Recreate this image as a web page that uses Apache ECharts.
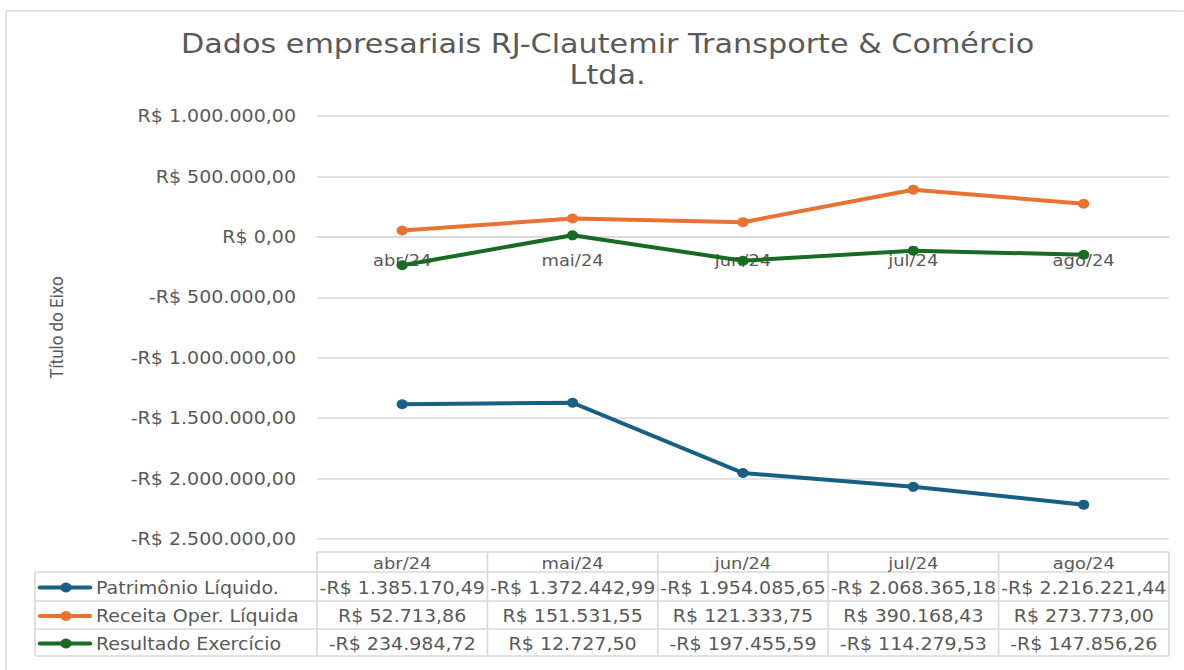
<!DOCTYPE html>
<html>
<head>
<meta charset="utf-8">
<script src="https://cdn.jsdelivr.net/npm/echarts@6/dist/echarts.min.js"></script>
<style>
  html, body { margin: 0; padding: 0; background: #fff; overflow: hidden; }
  #wrap { width: 1184px; height: 670px; overflow: hidden; }
  /* a imagem original está levemente esticada na horizontal */
  #chart { height: 670px; transform-origin: 0 0; }
</style>
</head>
<body>
<div id="wrap"><div id="chart"></div></div>
<script>
// dados
const meses = ['abr/24', 'mai/24', 'jun/24', 'jul/24', 'ago/24'];
const patrimonio = [-1385170.49, -1372442.99, -1954085.65, -2068365.18, -2216221.44];
const receita = [52713.86, 151531.55, 121333.75, 390168.43, 273773.00];
const resultado = [-234984.72, 12727.50, -197455.59, -114279.53, -147856.26];
const nomesSeries = ['Patrimônio Líquido.', 'Receita Oper. Líquida', 'Resultado Exercício'];
const coresSeries = ['#185f84', '#e97132', '#196b24'];
const yMin = -2500000, yMax = 1000000, yStep = 500000;

// layout (coordenadas finais, em px da imagem)
const S = 1.12; // fator de esticamento horizontal
const W = 1184, H = 670;
const GRID_L = 317, GRID_R = 1169, GRID_T = 116, GRID_B = 539;
const TAB_TOP = 552, HEAD_H = 20, ROW_H = [29, 28, 27], TAB_LEFT = 35;
const GRAY = '#d9d9d9', TXT = '#595959';
const FONT = '"DejaVu Sans", sans-serif';
const px = x => x / S; // converte x final -> x interno

const dom = document.getElementById('chart');
dom.style.width = px(W) + 'px';
dom.style.transform = 'scaleX(' + S + ')';

// formata R$ no padrão brasileiro
function brl(v) {
  const neg = v < 0;
  const parts = Math.abs(v).toFixed(2).split('.');
  const inteiro = parts[0].replace(/\B(?=(\d{3})+(?!\d))/g, '.');
  return (neg ? '-' : '') + 'R$ ' + inteiro + ',' + parts[1];
}

const myChart = echarts.init(dom, null, { renderer: 'svg' });

// tabela de dados (abaixo do gráfico)
function buildTable() {
  const els = [];
  const colW = (GRID_R - GRID_L) / meses.length;
  const line = (x1, y1, x2, y2) => ({
    type: 'line', silent: true,
    shape: { x1: px(x1), y1, x2: px(x2), y2 },
    style: { stroke: GRAY, lineWidth: 1.5 }
  });
  const rowTops = [TAB_TOP + HEAD_H];
  ROW_H.forEach((h, i) => rowTops.push(rowTops[i] + h));
  const bottom = rowTops[rowTops.length - 1];
  // linhas horizontais
  els.push(line(GRID_L, TAB_TOP, GRID_R, TAB_TOP));
  rowTops.forEach(y => els.push(line(TAB_LEFT, y, GRID_R, y)));
  // linhas verticais
  els.push(line(TAB_LEFT, rowTops[0], TAB_LEFT, bottom));
  for (let c = 0; c <= meses.length; c++) {
    const x = GRID_L + c * colW;
    els.push(line(x, TAB_TOP, x, bottom));
  }
  // cabeçalho
  meses.forEach((m, c) => {
    els.push({
      type: 'text', silent: true,
      x: px(GRID_L + (c + 0.5) * colW), y: TAB_TOP + HEAD_H / 2 + 1,
      style: { text: m, fill: TXT, font: '16px ' + FONT, align: 'center', verticalAlign: 'middle' }
    });
  });
  const dados = [patrimonio, receita, resultado];
  dados.forEach((serie, r) => {
    const cy = (rowTops[r] + rowTops[r + 1]) / 2 + 1;
    // chave da legenda
    els.push({
      type: 'line', silent: true,
      shape: { x1: px(40), y1: cy, x2: px(90), y2: cy },
      style: { stroke: coresSeries[r], lineWidth: 4, lineCap: 'round' }
    });
    els.push({
      type: 'circle', silent: true,
      shape: { cx: px(66), cy: cy, r: 5 },
      style: { fill: coresSeries[r] }
    });
    els.push({
      type: 'text', silent: true,
      x: px(96), y: cy,
      style: { text: nomesSeries[r], fill: TXT, font: '17px ' + FONT, align: 'left', verticalAlign: 'middle' }
    });
    serie.forEach((v, c) => {
      els.push({
        type: 'text', silent: true,
        x: px(GRID_L + (c + 0.5) * colW), y: cy,
        style: { text: brl(v), fill: TXT, font: '17px ' + FONT, align: 'center', verticalAlign: 'middle' }
      });
    });
  });
  // borda externa do gráfico (topo e esquerda)
  els.push(line(6, 11, W, 11));
  els.push(line(6, 11, 6, H));
  return els;
}

const mkSerie = (i, data) => ({
  name: nomesSeries[i],
  type: 'line',
  data: data,
  symbol: 'circle',
  symbolSize: 10,
  lineStyle: { width: 4, color: coresSeries[i] },
  itemStyle: { color: coresSeries[i] },
  z: 3 + i
});

// posição vertical do zero (eixo de categorias fica no zero)
const zeroY = GRID_T + (yMax / (yMax - yMin)) * (GRID_B - GRID_T);

const option = {
  animation: false,
  backgroundColor: '#fff',
  title: {
    text: 'Dados empresariais RJ-Clautemir Transporte & Comércio\nLtda.',
    left: px(602),
    textAlign: 'center',
    top: 23,
    textStyle: { color: TXT, fontSize: 27, fontWeight: 'normal', fontFamily: FONT, lineHeight: 31 }
  },
  legend: { show: false },
  grid: { left: px(GRID_L), right: px(W - GRID_R), top: GRID_T, bottom: H - GRID_B, containLabel: false },
  xAxis: {
    type: 'category',
    data: meses,
    boundaryGap: true,
    offset: -(GRID_B - zeroY),
    axisLine: { onZero: false, lineStyle: { color: GRAY, width: 1.5 } },
    axisTick: { show: false },
    axisLabel: { color: TXT, fontSize: 16, fontFamily: FONT, margin: 15 }
  },
  yAxis: {
    type: 'value',
    min: yMin,
    max: yMax,
    interval: yStep,
    name: 'Título do Eixo',
    nameLocation: 'middle',
    nameGap: px(GRID_L - 66),
    nameTextStyle: { color: TXT, fontSize: 17, fontFamily: 'Roboto, sans-serif' },
    axisLine: { show: false },
    axisTick: { show: false },
    axisLabel: { color: TXT, fontSize: 17, fontFamily: FONT, margin: px(21), formatter: v => brl(v) },
    splitLine: { lineStyle: { color: GRAY, width: 1.5 } }
  },
  series: [mkSerie(0, patrimonio), mkSerie(1, receita), mkSerie(2, resultado)],
  graphic: buildTable()
};

myChart.setOption(option, true);
</script>
</body>
</html>
